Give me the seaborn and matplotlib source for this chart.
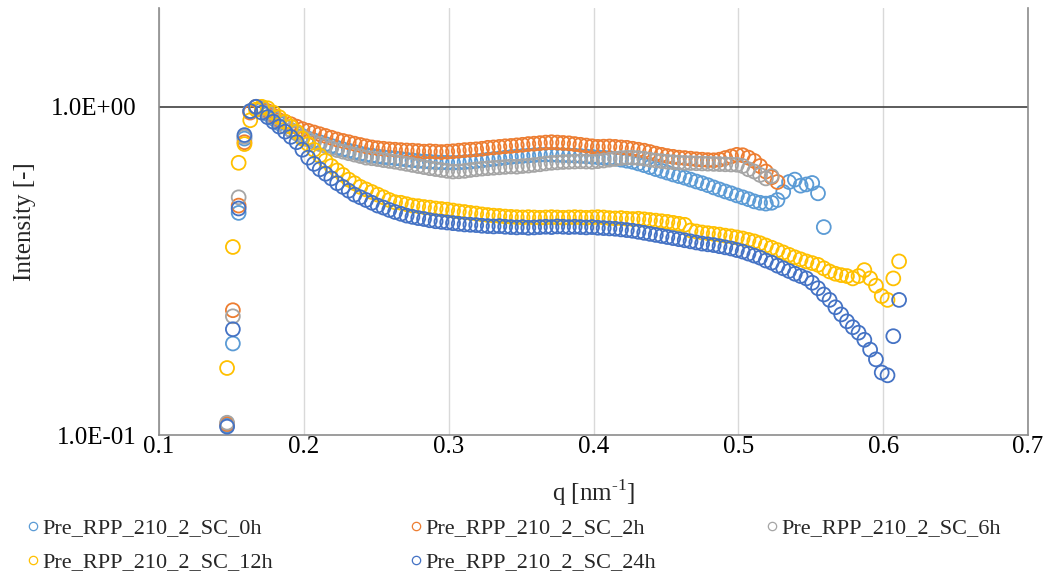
import numpy as np
import pandas as pd
import matplotlib
matplotlib.use("Agg")
import matplotlib.pyplot as plt
import seaborn as sns
from matplotlib.lines import Line2D
from matplotlib.ticker import FixedLocator, FixedFormatter, NullLocator

# q grid [nm^-1]
q = [0.147, 0.151, 0.155, 0.159, 0.163, 0.167, 0.171, 0.175, 0.179, 0.183,
     0.187, 0.191, 0.195, 0.199, 0.203, 0.207, 0.211, 0.215, 0.219, 0.223,
     0.227, 0.231, 0.235, 0.239, 0.243, 0.247, 0.251, 0.255, 0.259, 0.263,
     0.267, 0.271, 0.275, 0.279, 0.283, 0.287, 0.291, 0.295, 0.299, 0.303,
     0.307, 0.311, 0.315, 0.319, 0.323, 0.327, 0.331, 0.335, 0.339, 0.343,
     0.347, 0.351, 0.355, 0.359, 0.363, 0.367, 0.371, 0.375, 0.379, 0.383,
     0.387, 0.391, 0.395, 0.399, 0.403, 0.407, 0.411, 0.415, 0.419, 0.423,
     0.427, 0.431, 0.435, 0.439, 0.443, 0.447, 0.451, 0.455, 0.459, 0.463,
     0.467, 0.471, 0.475, 0.479, 0.483, 0.487, 0.491, 0.495, 0.499, 0.503,
     0.507, 0.511, 0.515, 0.519, 0.523, 0.527, 0.531, 0.535, 0.539, 0.543,
     0.547, 0.551, 0.555, 0.559, 0.563, 0.567, 0.571, 0.575, 0.579, 0.583,
     0.587, 0.591, 0.595, 0.599, 0.603, 0.607, 0.611]

# normalised intensity, one list per annealing time
i_0h = [0.107, 0.19, 0.475, 0.80, 0.97, 1.0, 0.98, 0.95, 0.92, 0.89,
        0.87, 0.85, 0.83, 0.815, 0.80, 0.79, 0.78, 0.77, 0.76, 0.75,
        0.742, 0.735, 0.728, 0.72, 0.714, 0.71, 0.706, 0.702, 0.70, 0.697,
        0.694, 0.69, 0.687, 0.684, 0.682, 0.68, 0.678, 0.677, 0.676, 0.675,
        0.676, 0.678, 0.68, 0.683, 0.686, 0.69, 0.693, 0.696, 0.70, 0.703,
        0.706, 0.708, 0.71, 0.712, 0.714, 0.715, 0.714, 0.713, 0.712, 0.711,
        0.71, 0.708, 0.706, 0.704, 0.702, 0.70, 0.698, 0.695, 0.69, 0.685,
        0.68, 0.672, 0.664, 0.655, 0.646, 0.638, 0.63, 0.622, 0.615, 0.608,
        0.60, 0.592, 0.585, 0.577, 0.568, 0.56, 0.552, 0.545, 0.537, 0.53,
        0.523, 0.515, 0.51, 0.507, 0.51, 0.52, 0.55, 0.59, 0.60, 0.575,
        0.58, 0.586, 0.545, 0.43]

i_2h = [0.108, 0.24, 0.50, 0.78, 0.96, 1.0, 0.99, 0.97, 0.94, 0.91,
        0.90, 0.885, 0.87, 0.855, 0.845, 0.835, 0.825, 0.815, 0.805, 0.795,
        0.787, 0.78, 0.772, 0.765, 0.758, 0.752, 0.748, 0.745, 0.742, 0.74,
        0.738, 0.736, 0.735, 0.733, 0.73, 0.732, 0.73, 0.728, 0.73, 0.732,
        0.735, 0.738, 0.74, 0.742, 0.745, 0.75, 0.752, 0.755, 0.758, 0.76,
        0.763, 0.766, 0.77, 0.772, 0.775, 0.778, 0.78, 0.778, 0.776, 0.774,
        0.77, 0.766, 0.762, 0.758, 0.755, 0.756, 0.757, 0.755, 0.752, 0.75,
        0.745, 0.74, 0.735, 0.728, 0.72, 0.714, 0.708, 0.704, 0.70, 0.698,
        0.695, 0.692, 0.69, 0.688, 0.687, 0.69, 0.698, 0.706, 0.714, 0.712,
        0.70, 0.684, 0.66, 0.635, 0.61, 0.59]

i_6h = [0.109, 0.23, 0.53, 0.81, 0.97, 1.0, 0.99, 0.96, 0.93, 0.90,
        0.87, 0.85, 0.83, 0.81, 0.795, 0.78, 0.77, 0.76, 0.748, 0.738,
        0.73, 0.722, 0.715, 0.708, 0.70, 0.697, 0.693, 0.688, 0.684, 0.68,
        0.675, 0.67, 0.665, 0.66, 0.655, 0.65, 0.646, 0.642, 0.638, 0.635,
        0.636, 0.638, 0.642, 0.645, 0.648, 0.65, 0.652, 0.654, 0.656, 0.658,
        0.657, 0.66, 0.662, 0.665, 0.668, 0.672, 0.675, 0.677, 0.679, 0.68,
        0.681, 0.682, 0.681, 0.68, 0.683, 0.686, 0.69, 0.694, 0.698, 0.70,
        0.70, 0.698, 0.695, 0.69, 0.686, 0.683, 0.68, 0.678, 0.676, 0.675,
        0.674, 0.673, 0.672, 0.671, 0.67, 0.669, 0.668, 0.667, 0.666, 0.66,
        0.645, 0.635, 0.62, 0.605, 0.615]

i_12h = [0.16, 0.374, 0.675, 0.77, 0.91, 0.98, 1.0, 0.99, 0.96, 0.93,
         0.90, 0.87, 0.84, 0.80, 0.77, 0.74, 0.71, 0.685, 0.66, 0.64,
         0.62, 0.60, 0.585, 0.57, 0.56, 0.55, 0.54, 0.53, 0.52, 0.512,
         0.51, 0.505, 0.50, 0.498, 0.495, 0.493, 0.49, 0.488, 0.486, 0.483,
         0.48, 0.478, 0.475, 0.473, 0.47, 0.468, 0.466, 0.465, 0.463, 0.462,
         0.461, 0.46, 0.461, 0.46, 0.459, 0.46, 0.461, 0.46, 0.459, 0.46,
         0.461, 0.46, 0.459, 0.46, 0.461, 0.46, 0.458, 0.457, 0.458, 0.456,
         0.455, 0.456, 0.454, 0.452, 0.45, 0.448, 0.446, 0.443, 0.44, 0.437,
         0.42, 0.417, 0.414, 0.412, 0.41, 0.408, 0.405, 0.403, 0.40, 0.397,
         0.393, 0.389, 0.384, 0.378, 0.372, 0.366, 0.36, 0.354, 0.348, 0.343,
         0.338, 0.334, 0.33, 0.322, 0.315, 0.31, 0.307, 0.305, 0.30, 0.305,
         0.318, 0.30, 0.285, 0.265, 0.258, 0.30, 0.338]

i_24h = [0.106, 0.21, 0.49, 0.82, 0.97, 1.0, 0.96, 0.93, 0.90, 0.87,
         0.84, 0.81, 0.78, 0.74, 0.70, 0.67, 0.645, 0.625, 0.605, 0.585,
         0.57, 0.555, 0.54, 0.53, 0.52, 0.51, 0.50, 0.493, 0.485, 0.478,
         0.472, 0.466, 0.462, 0.458, 0.455, 0.451, 0.448, 0.446, 0.444, 0.442,
         0.44, 0.438, 0.437, 0.436, 0.434, 0.433, 0.432, 0.433, 0.431, 0.43,
         0.429, 0.43, 0.428, 0.429, 0.43, 0.431, 0.43, 0.432, 0.431, 0.43,
         0.431, 0.43, 0.429, 0.43, 0.428, 0.427, 0.426, 0.425, 0.423, 0.421,
         0.419, 0.416, 0.413, 0.41, 0.407, 0.404, 0.401, 0.398, 0.395, 0.392,
         0.389, 0.386, 0.383, 0.381, 0.379, 0.376, 0.373, 0.37, 0.366, 0.362,
         0.357, 0.352, 0.347, 0.34, 0.335, 0.328, 0.322, 0.316, 0.31, 0.305,
         0.30, 0.291, 0.28, 0.268, 0.258, 0.245, 0.233, 0.222, 0.213, 0.205,
         0.195, 0.182, 0.17, 0.155, 0.152, 0.20, 0.258]

labels = ["Pre_RPP_210_2_SC_0h", "Pre_RPP_210_2_SC_2h", "Pre_RPP_210_2_SC_6h",
          "Pre_RPP_210_2_SC_12h", "Pre_RPP_210_2_SC_24h"]
colors = ["#5B9BD5", "#ED7D31", "#A5A5A5", "#FFC000", "#4472C4"]
x_ticks = [0.1, 0.2, 0.3, 0.4, 0.5, 0.6, 0.7]
y_ticks = [0.1, 1.0]
y_tick_labels = ["1.0E-01", "1.0E+00"]

series = [i_0h, i_2h, i_6h, i_12h, i_24h]
frames = []
for lab, vals in zip(labels, series):
    frames.append(pd.DataFrame({"q": q[:len(vals)], "I": vals, "sample": lab}))
df = pd.concat(frames, ignore_index=True)

sns.set_theme(style="white")
plt.rcParams["font.family"] = ["Liberation Serif", "DejaVu Serif"]
plt.rcParams["axes.unicode_minus"] = False

fig = plt.figure(figsize=(10.49, 5.85), dpi=100)
ax = fig.add_axes([159 / 1049, 1 - 435 / 585, 869 / 1049, 427 / 585])

for lab, col in zip(labels, colors):
    sub = df[df["sample"] == lab]
    sns.scatterplot(data=sub, x="q", y="I", ax=ax, s=100, marker="o",
                    facecolor="none", edgecolor=col, linewidth=1.3,
                    legend=False, zorder=3)

ax.set_yscale("log")
ax.set_xlim(0.1, 0.7)
ax.set_ylim(0.1, 2.0)
ax.set_xticks(x_ticks)
ax.set_xticklabels([f"{t:.1f}" for t in x_ticks])
ax.yaxis.set_major_locator(FixedLocator(y_ticks))
ax.yaxis.set_major_formatter(FixedFormatter(y_tick_labels))
ax.yaxis.set_minor_locator(NullLocator())
ax.tick_params(axis="both", length=0, labelsize=18, colors="black")
ax.tick_params(axis="y", pad=16)
ax.tick_params(axis="x", pad=1)

ax.grid(axis="x", color="#D9D9D9", linewidth=1)
ax.axhline(1.0, color="#404040", linewidth=1.2, zorder=1)
for side in ["left", "bottom", "right"]:
    ax.spines[side].set_color("#8C8C8C")
    ax.spines[side].set_linewidth(1.2)
ax.spines["top"].set_visible(False)

# hyphen (not minus) in the exponent, as in the original
ax.set_xlabel("q [nm$^{\\mathregular{\u2010 1}}$]".replace("\u2010 ", "\u2010"), fontsize=18)
ax.set_ylabel("Intensity [-]", fontsize=18)
ax.xaxis.set_label_coords(0.5, -0.10)
ax.yaxis.set_label_coords(-0.142, 0.5)
ax.xaxis.label.set_va("top")

# legend, laid out in rows like the original
handles = [Line2D([], [], marker="o", ls="none", mfc="none", mec=c, ms=6, mew=0.9)
           for c in colors]
cols = [([0, 3], 26), ([1, 4], 409), ([2], 765)]
for idx, xpx in cols:
    fig.legend([handles[i] for i in idx], [labels[i] for i in idx],
               loc="upper left", bbox_to_anchor=(xpx / 1049, 1 - 518 / 585),
               frameon=False, fontsize=16, handlelength=0.6, handletextpad=0.15,
               borderpad=0, borderaxespad=0, labelspacing=0.6)

fig.savefig("out.png", dpi=100)
